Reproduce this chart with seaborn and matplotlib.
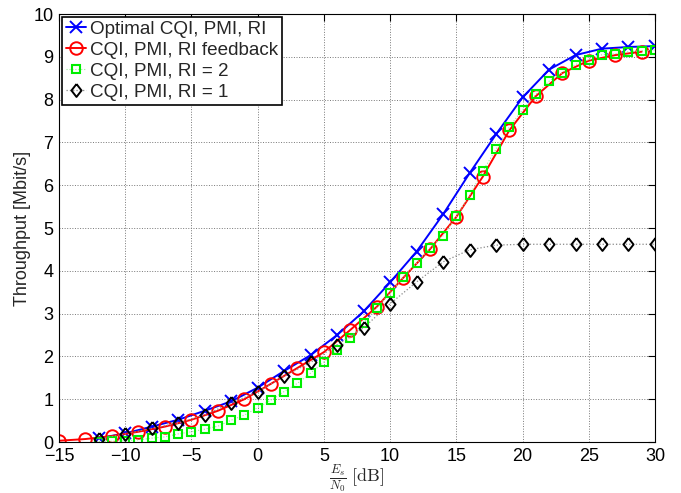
import matplotlib
matplotlib.use("Agg")
import matplotlib.pyplot as plt
import seaborn as sns
import numpy as np

# Data
snr_opt = [-12, -10, -8, -6, -4, -2, 0, 2, 4, 6, 8, 10, 12, 14, 16, 18, 20, 22, 24, 26, 28, 30]
thr_opt = [0.09, 0.20, 0.36, 0.52, 0.73, 0.95, 1.27, 1.66, 2.03, 2.50, 3.05, 3.73, 4.45, 5.32, 6.28, 7.19, 8.05, 8.70, 9.04, 9.19, 9.23, 9.25]

snr_fb = [-15, -13, -11, -9, -7, -5, -3, -1, 1, 3, 5, 7, 9, 11, 13, 15, 17, 19, 21, 23, 25, 27, 29]
thr_fb = [0.03, 0.07, 0.14, 0.24, 0.36, 0.52, 0.73, 1.00, 1.36, 1.73, 2.10, 2.62, 3.16, 3.84, 4.50, 5.26, 6.20, 7.28, 8.08, 8.62, 8.91, 9.04, 9.12]

snr_ri2 = list(range(-12, 31))
thr_ri2 = [0.01, 0.02, 0.03, 0.05, 0.09, 0.12, 0.19, 0.24, 0.30, 0.37, 0.51, 0.63, 0.80,
           0.98, 1.18, 1.37, 1.61, 1.87, 2.14, 2.44, 2.78, 3.14, 3.48, 3.86, 4.18, 4.53,
           4.82, 5.27, 5.76, 6.33, 6.84, 7.36, 7.76, 8.12, 8.43, 8.63, 8.82, 8.93, 9.05,
           9.07, 9.12, 9.14, 9.16]

snr_ri1 = [-12, -10, -8, -6, -4, -2, 0, 2, 4, 6, 8, 10, 12, 14, 16, 18, 20, 22, 24, 26, 28, 30]
thr_ri1 = [0.07, 0.19, 0.32, 0.44, 0.63, 0.91, 1.17, 1.54, 1.86, 2.27, 2.67, 3.23, 3.74, 4.21, 4.49, 4.60, 4.62, 4.62, 4.62, 4.62, 4.62, 4.62]

labels = ["Optimal CQI, PMI, RI", "CQI, PMI, RI feedback", "CQI, PMI, RI = 2", "CQI, PMI, RI = 1"]
x_ticks = [-15, -10, -5, 0, 5, 10, 15, 20, 25, 30]
y_ticks = list(range(0, 11))

sns.set_style("white")
plt.rcParams['font.family'] = ['Liberation Sans', 'DejaVu Sans']
plt.rcParams['mathtext.fontset'] = 'cm'

fig = plt.figure(figsize=(6.81, 4.93), dpi=100)
ax = fig.add_axes([0.0866, 0.1034, 0.8752, 0.8682])

diamond = [(0, 1), (0.78, 0), (0, -1), (-0.78, 0), (0, 1)]

sns.lineplot(x=snr_opt, y=thr_opt, ax=ax, color='#0000ff', lw=1.4, marker='x',
             markersize=8, markeredgecolor='#0000ff', markeredgewidth=1.4, label=labels[0])
sns.lineplot(x=snr_fb, y=thr_fb, ax=ax, color='#ff0000', lw=1.4, marker='o',
             markersize=9, markerfacecolor='none', markeredgecolor='#ff0000',
             markeredgewidth=1.4, label=labels[1])
sns.lineplot(x=snr_ri2, y=thr_ri2, ax=ax, color='#99ee99', lw=0.8, linestyle=':',
             marker='s', markersize=6.3, markerfacecolor='none', markeredgecolor='#00ee00',
             markeredgewidth=1.5, label=labels[2])
sns.lineplot(x=snr_ri1, y=thr_ri1, ax=ax, color='#888888', lw=0.9, linestyle=':',
             marker=diamond, markersize=9.3, markerfacecolor='none', markeredgecolor='black',
             markeredgewidth=1.4, label=labels[3])

ax.set_xlim(-15, 30)
ax.set_ylim(0, 10)
ax.set_xticks(x_ticks)
ax.set_yticks(y_ticks)
ax.tick_params(direction='in', length=5, width=0.8, top=True, right=True,
               labelsize=13, colors='black', pad=4)
ax.grid(True, linestyle=':', color='#777777', lw=0.7)
for s in ax.spines.values():
    s.set_color('black')
    s.set_linewidth(0.8)

ax.set_ylabel("Throughput [Mbit/s]", fontsize=13, labelpad=2)
ax.set_xlabel(r'$\frac{E_s}{N_0}\ \mathrm{[dB]}$', fontsize=13, labelpad=-2)

leg = ax.legend(loc='upper left', fontsize=13.6, frameon=True, fancybox=False,
                edgecolor='black', framealpha=1, borderaxespad=0.15,
                handlelength=1.1, handletextpad=0.2, borderpad=0.2, labelspacing=0.2)
leg.get_frame().set_linewidth(1.2)

fig.savefig("out.png", dpi=100)
